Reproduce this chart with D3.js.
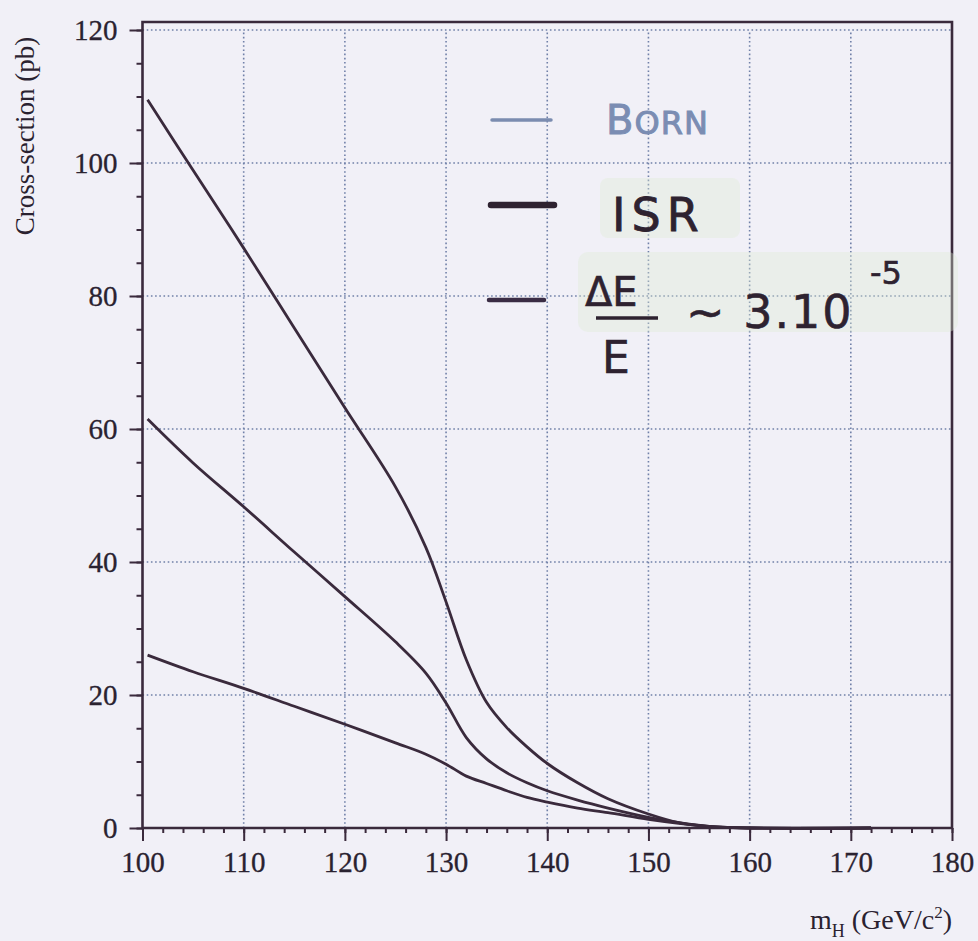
<!DOCTYPE html>
<html>
<head>
<meta charset="utf-8">
<script src="https://cdn.jsdelivr.net/npm/d3@7"></script>
<style>
  html, body { margin: 0; padding: 0; background: #f1f0f7; }
  svg { display: block; }
</style>
</head>
<body>
<svg id="chart" width="978" height="941"></svg>
<script>
// ---- data ----
const masses = [100.5, 105, 110, 115, 120, 125, 128, 130, 132, 134, 136, 138, 140, 143, 146, 150, 153, 156, 160, 172];
const bornValues = [109.5, 98.9, 87.2, 75.2, 63.2, 51.3, 42.2, 34.0, 25.3, 18.9, 15.1, 12.2, 9.7, 6.8, 4.4, 2.1, 0.8, 0.2, 0.0, 0.0];
const isrValues  = [61.5, 54.9, 48.3, 41.5, 34.8, 28.0, 23.3, 18.8, 13.6, 10.4, 8.3, 6.8, 5.6, 4.2, 3.0, 1.6, 0.8, 0.25, 0.0, 0.0];
const spreadValues = [26.0, 23.5, 21.0, 18.3, 15.6, 12.8, 11.1, 9.6, 7.8, 6.7, 5.6, 4.6, 3.9, 3.0, 2.3, 1.3, 0.7, 0.25, 0.0, 0.0];
const xTicks = [100, 110, 120, 130, 140, 150, 160, 170, 180];
const yTicks = [0, 20, 40, 60, 80, 100, 120];
const xLabel = "m";
const yLabel = "Cross-section (pb)";
const legendLabels = ["BORN", "ISR", "ΔE/E ~ 3.10⁻⁵"];

const svg = d3.select("#chart");
const x = d3.scaleLinear().domain([100, 180]).range([142.5, 952]);
const y = d3.scaleLinear().domain([0, 120]).range([828, 30]);
const yFrameTop = 121.2;

const ink = "#3a2a3c";
const gridBlue = "#7080a8";

svg.append("rect").attr("width", 978).attr("height", 941).attr("fill", "#f1f0f7");

// grid
const g = svg.append("g");
g.selectAll(".vg").data(xTicks.filter(d => d > 100 && d < 180)).join("line")
  .attr("x1", d => x(d)).attr("x2", d => x(d))
  .attr("y1", y(0)).attr("y2", y(120))
  .attr("stroke", gridBlue).attr("stroke-width", 1.6)
  .attr("stroke-dasharray", "1.6,2.6");
g.selectAll(".hg").data(yTicks.filter(d => d > 0)).join("line")
  .attr("x1", x(100)).attr("x2", x(180))
  .attr("y1", d => y(d)).attr("y2", d => y(d))
  .attr("stroke", gridBlue).attr("stroke-width", 1.6)
  .attr("stroke-dasharray", "1.6,2.6");

// axes
const xAxis = d3.axisBottom(x).tickValues(xTicks).tickSize(13);
const xMinor = d3.axisBottom(x).tickValues(d3.range(100, 181, 2)).tickSize(5).tickFormat("");
const yAxis = d3.axisLeft(y).tickValues(yTicks).tickSize(13);
const yMinor = d3.axisLeft(y).tickValues(d3.range(0, 121, 5)).tickSize(6).tickFormat("");

function styleAxis(sel, withText) {
  sel.select(".domain").remove();
  sel.selectAll("line").attr("stroke", ink).attr("stroke-width", 2);
  if (withText) sel.selectAll("text")
    .attr("font-family", "'Liberation Serif', 'Times New Roman', serif")
    .attr("font-size", 29).attr("fill", "#2a2230")
    .attr("stroke", "#2a2230").attr("stroke-width", 0.3);
}
svg.append("g").attr("transform", `translate(0,${y(0)})`).call(xMinor).call(s => styleAxis(s, false));
svg.append("g").attr("transform", `translate(0,${y(0)})`).call(xAxis).call(s => styleAxis(s, true))
  .selectAll("text").attr("dy", "0.95em").attr("y", 16);
svg.append("g").attr("transform", `translate(${x(100)},0)`).call(yMinor).call(s => styleAxis(s, false));
svg.append("g").attr("transform", `translate(${x(100)},0)`).call(yAxis).call(s => styleAxis(s, true))
  .selectAll("text").attr("x", -25).attr("dy", "0.33em");

// frame
svg.append("path")
  .attr("d", `M${x(100)},${y(0)} L${x(100)},${y(yFrameTop)} L${x(180)},${y(yFrameTop)} L${x(180)},${y(0)} Z`)
  .attr("fill", "none").attr("stroke", ink).attr("stroke-width", 2.6);

// axis titles
svg.append("text")
  .attr("transform", `translate(34,136) rotate(-90)`)
  .attr("text-anchor", "middle")
  .attr("font-family", "'Liberation Serif', 'Times New Roman', serif")
  .attr("font-size", 27).attr("fill", "#2a2230")
  .text(yLabel);

const xt = svg.append("text")
  .attr("x", 952).attr("y", 929).attr("text-anchor", "end")
  .attr("font-family", "'Liberation Serif', 'Times New Roman', serif")
  .attr("font-size", 28).attr("fill", "#2a2230");
xt.append("tspan").text(xLabel);
xt.append("tspan").attr("font-size", 18).attr("dy", 8).text("H");
xt.append("tspan").attr("dy", -8).text(" (GeV/c");
xt.append("tspan").attr("font-size", 17).attr("dy", -11).text("2");
xt.append("tspan").attr("dy", 11).text(")");

// curves
const line = d3.line().x(d => x(d[0])).y(d => y(d[1])).curve(d3.curveCatmullRom.alpha(0.5));
[bornValues, isrValues, spreadValues].forEach(vals => {
  svg.append("path")
    .datum(masses.map((m, i) => [m, vals[i]]))
    .attr("d", line)
    .attr("fill", "none")
    .attr("stroke", ink).attr("stroke-width", 2.8)
    .attr("stroke-linejoin", "round");
});

// handwritten legend
const hand = "'DejaVu Sans', 'Noto Sans', sans-serif";
svg.append("rect").attr("x", 600).attr("y", 178).attr("width", 140).attr("height", 60)
  .attr("fill", "#dcecd2").attr("opacity", 0.35).attr("rx", 8);
svg.append("rect").attr("x", 578).attr("y", 252).attr("width", 380).attr("height", 80)
  .attr("fill", "#dcecd2").attr("opacity", 0.35).attr("rx", 10);

svg.append("line").attr("x1", 492).attr("x2", 551).attr("y1", 120).attr("y2", 120)
  .attr("stroke", "#7b8cb0").attr("stroke-width", 3.5).attr("stroke-linecap", "round");
const born = svg.append("text").attr("x", 606).attr("y", 134)
  .attr("font-family", hand).attr("font-size", 40).attr("fill", "#7b8db3")
  .attr("stroke", "#7b8db3").attr("stroke-width", 1.0).attr("letter-spacing", 1);
born.append("tspan").text(legendLabels[0][0]);
born.append("tspan").attr("font-size", 32).text(legendLabels[0].slice(1));

svg.append("line").attr("x1", 491).attr("x2", 554).attr("y1", 205).attr("y2", 205)
  .attr("stroke", "#2e2230").attr("stroke-width", 6.5).attr("stroke-linecap", "round");
svg.append("text").attr("x", 612).attr("y", 231)
  .attr("font-family", hand).attr("font-size", 46).attr("fill", "#2e2230")
  .attr("stroke", "#2e2230").attr("stroke-width", 0.8)
  .attr("letter-spacing", 6)
  .text(legendLabels[1]);

svg.append("line").attr("x1", 489).attr("x2", 544).attr("y1", 300).attr("y2", 300)
  .attr("stroke", "#3a2c44").attr("stroke-width", 4.5).attr("stroke-linecap", "round");
const frac = svg.append("g").attr("fill", "#2e2230").attr("stroke", "#2e2230")
  .attr("font-family", hand).attr("stroke-width", 0.6);
frac.append("text").attr("x", 585).attr("y", 306).attr("font-size", 40).text("ΔE");
frac.append("line").attr("x1", 596).attr("x2", 658).attr("y1", 318).attr("y2", 318).attr("stroke-width", 3.5);
frac.append("text").attr("x", 602).attr("y", 373).attr("font-size", 44).text("E");
frac.append("text").attr("x", 686).attr("y", 328).attr("font-size", 46).attr("letter-spacing", 2).text("~ 3.10");
frac.append("text").attr("x", 870).attr("y", 284).attr("font-size", 32).text("-5");
</script>
</body>
</html>
